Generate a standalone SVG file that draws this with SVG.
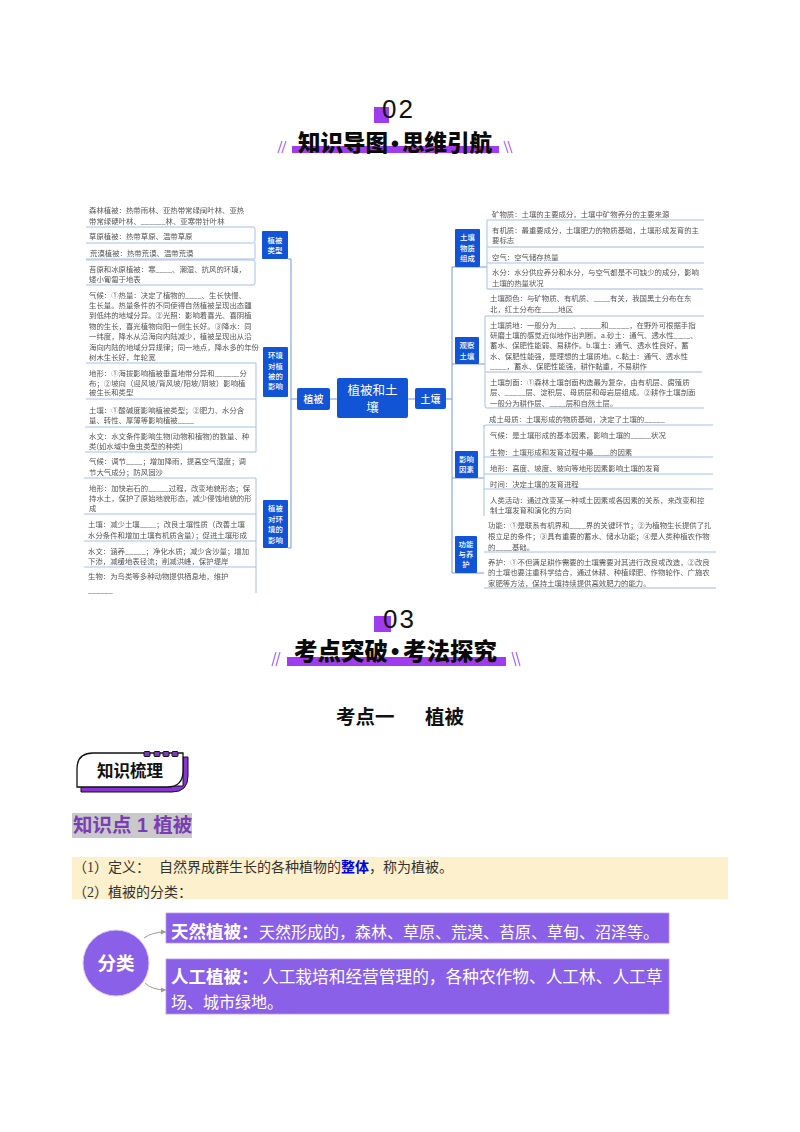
<svg xmlns="http://www.w3.org/2000/svg" width="800" height="1132" viewBox="0 0 800 1132">
<style>
text{font-family:"Noto Sans CJK SC","Liberation Sans",sans-serif}
.t{font-size:7.4px;fill:#555}
.n{fill:#1155d6}
.nt{font-size:7.4px;font-weight:500;fill:#fff;text-anchor:middle}
.c{fill:none;stroke:#7596d8;stroke-width:1}
.l{fill:none;stroke:#a9bfe6;stroke-width:1}
.l2{fill:none;stroke:#c3cfe6;stroke-width:1.4}
.h{font-size:22.500px;font-weight:900;fill:#0a0a0a}
.num{font-family:"Liberation Sans",sans-serif;font-size:26px;fill:#111;letter-spacing:2px}
.bar{fill:#a03cf0}
.sl{fill:none;stroke:#b26cf2;stroke-width:1.2}
.s{font-family:"Liberation Serif","Noto Sans CJK SC",serif;font-size:14px;fill:#333}
.w{fill:#fff;font-size:16px}
.wb{fill:#fff;font-size:17.5px;font-weight:700}
.p{fill:#8a60e8;stroke:#b79af0;stroke-width:.8}
.soft{filter:url(#b)}
</style>
<defs>
<marker id="a" markerWidth="6" markerHeight="6" refX="5" refY="3" orient="auto"><path d="M0,0.5L5,3L0,5.500Z" fill="#999"/></marker>
<filter id="b" x="-2%" y="-2%" width="104%" height="104%"><feGaussianBlur stdDeviation="0.35"/></filter>
</defs>
<g id="h02">
<rect x="374" y="107" width="15" height="16" class="bar"/>
<text x="382" y="118" class="num">02</text>
<rect x="292" y="146" width="207" height="7" class="bar"/>
<path class="sl" d="M282,141L278,153M286,141L282,153M504,141L508,153M508,141L512,153"/>
<text x="298" y="151" class="h">知识导图<tspan x="391" style="font-family:'Liberation Sans',sans-serif">•</tspan><tspan x="402">思维引航</tspan></text>
</g>
<g id="connectors">
<path class="c" d="M288,259H291V548H288M291,399H297M330,399H337M408,399H415M446,399H452M452,267V573M452,267H487M452,364H485M452,478H484M452,573H484"/>
<path d="M144,938Q152,932 166,932" fill="none" stroke="#999" stroke-width="1" marker-end="url(#a)"/>
<path d="M145,983Q152,990 166,990" fill="none" stroke="#999" stroke-width="1" marker-end="url(#a)"/>
</g>
<g id="root"><rect class="n" x="337" y="378" width="71" height="40" rx="2"/><text x="372.500" y="394.500" text-anchor="middle" font-size="12.500" fill="#fff">植被和土</text><text x="372.500" y="411.500" text-anchor="middle" font-size="12.500" fill="#fff">壤</text></g>
<g id="n-zhibei"><rect class="n" x="297" y="388" width="33" height="22" rx="2"/><text x="313.500" y="403" class="nt" style="font-size:10px">植被</text></g>
<g id="n-turang"><rect class="n" x="415" y="388" width="31" height="21" rx="2"/><text x="430.500" y="403" class="nt" style="font-size:10px">土壤</text></g>
<g id="n-type"><rect class="n" x="262" y="231" width="26" height="28" rx="1"/><text x="275" y="243" class="nt">植被</text><text x="275" y="253" class="nt">类型</text></g>
<g id="n-env"><rect class="n" x="263" y="347" width="25" height="50" rx="1"/><text x="275.500" y="358" class="nt">环境</text><text x="275.500" y="369" class="nt">对植</text><text x="275.500" y="379" class="nt">被的</text><text x="275.500" y="389" class="nt">影响</text></g>
<g id="n-effect"><rect class="n" x="263" y="500" width="25" height="48" rx="1"/><text x="275.500" y="511" class="nt">植被</text><text x="275.500" y="522" class="nt">对环</text><text x="275.500" y="532" class="nt">境的</text><text x="275.500" y="543" class="nt">影响</text></g>
<g id="n-comp"><rect class="n" x="455" y="229" width="25" height="38" rx="1"/><text x="467.500" y="240" class="nt">土壤</text><text x="467.500" y="251" class="nt">物质</text><text x="467.500" y="261" class="nt">组成</text></g>
<g id="n-obs"><rect class="n" x="455" y="337" width="24" height="27" rx="1"/><text x="467" y="348" class="nt">观察</text><text x="467" y="359" class="nt">土壤</text></g>
<g id="n-factor"><rect class="n" x="455" y="451" width="23" height="27" rx="1"/><text x="466.500" y="462" class="nt">影响</text><text x="466.500" y="472" class="nt">因素</text></g>
<g id="n-func"><rect class="n" x="455" y="536" width="22" height="37" rx="1"/><text x="466" y="547" class="nt">功能</text><text x="466" y="557" class="nt">与养</text><text x="466" y="567" class="nt">护</text></g>
<g id="leaf-left">
<path class="l" d="M86,227H253Q255,227 255,229V241Q255,243 253,243H86M255,243V259H86M86,260H253Q255,260 255,262V283Q255,285 253,285H86M86,363H256M86,399H256M85,427H256M85,452H256V363M84,478H256M84,514H256M84,541H256M84,567H256M256,478V593"/>
<g class="soft">
<text class="t" x="89" y="213">森林植被：热带雨林、亚热带常绿阔叶林、亚热</text>
<text class="t" x="89" y="224">带常绿硬叶林、______林、亚寒带针叶林</text>
<text class="t" x="89" y="239">草原植被：热带草原、温带草原</text>
<text class="t" x="90" y="256">荒漠植被：热带荒漠、温带荒漠</text>
<text class="t" x="89" y="272">苔原和冰原植被：寒____、潮湿、抗风的环境，</text>
<text class="t" x="89" y="282">矮小匍匐于地表</text>
<text class="t" x="89" y="298">气候：①热量：决定了植物的____、生长快慢、</text>
<text class="t" x="89" y="308">生长量。热量条件的不同使得自然植被呈现出态疆</text>
<text class="t" x="89" y="318">到低纬的地域分异。②光照：影响着喜光、喜阴植</text>
<text class="t" x="89" y="329">物的生长，喜光植物向阳一侧生长好。③降水：同</text>
<text class="t" x="89" y="339">一纬度，降水从沿海向内陆减少，植被呈现出从沿</text>
<text class="t" x="89" y="350">海向内陆的地域分异规律；同一地点，降水多的年份</text>
<text class="t" x="89" y="360">树木生长好，年轮宽</text>
<text class="t" x="89" y="376">地形：①海拔影响植被垂直地带分异和______分</text>
<text class="t" x="89" y="386">布；②坡向（迎风坡/背风坡/阳坡/阴坡）影响植</text>
<text class="t" x="89" y="395">被生长和类型</text>
<text class="t" x="89" y="413">土壤：①酸碱度影响植被类型；②肥力、水分含</text>
<text class="t" x="89" y="423">量、转性、厚薄等影响植被____</text>
<text class="t" x="89" y="439">水文：水文条件影响生物(动物和植物)的数量、种</text>
<text class="t" x="89" y="449">类(如水域中鱼虫类型的种类)</text>
<text class="t" x="89" y="464">气候：调节____；增加降雨，提高空气湿度；调</text>
<text class="t" x="89" y="475">节大气成分；防风固沙</text>
<text class="t" x="89" y="491">地形：加快岩石的_____过程，改变地貌形态；保</text>
<text class="t" x="89" y="501">持水土，保护了原始地貌形态，减少侵蚀地貌的形</text>
<text class="t" x="89" y="511">成</text>
<text class="t" x="88" y="527">土壤：减少土壤____；改良土壤性质（改善土壤</text>
<text class="t" x="88" y="538">水分条件和增加土壤有机质含量）；促进土壤形成</text>
<text class="t" x="88" y="554">水文：涵养_____；净化水质；减少含沙量；增加</text>
<text class="t" x="88" y="564">下渗，减缓地表径流；削减洪峰，保护堤岸</text>
<text class="t" x="88" y="579">生物：为鸟类等多种动物提供栖息地，维护</text>
<text class="t" x="88" y="593">______</text>
</g>
</g>
<g id="leaf-right">
<path class="l" d="M487,220H704M487,220V289M487,263H704M485,316H704M485,316V406Q485,408 487,408H704M484,427Q484,425 486,425H713M484,425V516M484,457H713M484,474H713M484,489H713M484,552H716"/>
<path class="l2" d="M487,247H704M487,289H703M485,372H702M484,588H716"/>
<g class="soft">
<text class="t" x="492" y="217">矿物质：土壤的主要成分，土壤中矿物养分的主要来源</text>
<text class="t" x="492" y="233">有机质：最重要成分，土壤肥力的物质基础，土壤形成发育的主</text>
<text class="t" x="492" y="243">要标志</text>
<text class="t" x="492" y="260">空气：空气储存热量</text>
<text class="t" x="492" y="275">水分：水分供应养分和水分，与空气都是不可缺少的成分，影响</text>
<text class="t" x="492" y="286">土壤的热量状况</text>
<text class="t" x="490" y="301">土壤颜色：与矿物质、有机质、____有关，我国黑土分布在东</text>
<text class="t" x="490" y="312">北，红土分布在____地区</text>
<text class="t" x="490" y="328">土壤质地：一般分为____、_____和_____，在野外可根据手指</text>
<text class="t" x="490" y="338">研磨土壤的感觉近似地作出判断。a.砂土：通气、透水性____、</text>
<text class="t" x="490" y="348">蓄水、保肥性能弱、易耕作。b.壤土：通气、透水性良好，蓄</text>
<text class="t" x="490" y="359">水、保肥性能强，是理想的土壤质地。c.黏土：通气、透水性</text>
<text class="t" x="490" y="369">____，蓄水、保肥性能强，耕作黏重，不易耕作</text>
<text class="t" x="490" y="385">土壤剖面：①森林土壤剖面构造最为复杂，由有机层、腐殖质</text>
<text class="t" x="490" y="395">层、_____层、淀积层、母质层和母岩层组成。②耕作土壤剖面</text>
<text class="t" x="490" y="406">一般分为耕作层、____层和自然土层。</text>
<text class="t" x="489" y="422">成土母质：土壤形成的物质基础，决定了土壤的_____</text>
<text class="t" x="490" y="438">气候：是土壤形成的基本因素，影响土壤的_____状况</text>
<text class="t" x="490" y="455">生物：土壤形成和发育过程中最____的因素</text>
<text class="t" x="490" y="471">地形：高度、坡度、坡向等地形因素影响土壤的发育</text>
<text class="t" x="490" y="487">时间：决定土壤的发育进程</text>
<text class="t" x="490" y="503">人类活动：通过改变某一种或土因素或各因素的关系，来改变和控</text>
<text class="t" x="490" y="513">制土壤发育和演化的方向</text>
<text class="t" x="488" y="528">功能：①是联系有机界和____界的关键环节；②为植物生长提供了扎</text>
<text class="t" x="488" y="539">根立足的条件；③具有重要的蓄水、储水功能；④是人类种植农作物</text>
<text class="t" x="488" y="550">的____基础。</text>
<text class="t" x="488" y="565">养护：①不但满足耕作需要的土壤需要对其进行改良或改造，②改良</text>
<text class="t" x="488" y="575">的土壤也要注重科学结合，通过休耕、种植绿肥、作物轮作、广施农</text>
<text class="t" x="488" y="586">家肥等方法，保持土壤持续提供高效肥力的能力。</text>
</g>
</g>
<g id="h03">
<rect x="374" y="616" width="17" height="16" class="bar"/>
<text x="383" y="628" class="num">03</text>
<rect x="287" y="657" width="219" height="9" class="bar"/>
<path class="sl" d="M276,652L272,666M280,652L276,666M512,652L516,666M516,652L520,666"/>
<text x="294" y="660" class="h" style="font-size:23.500px">考点突破<tspan x="391" style="font-family:'Liberation Sans',sans-serif">•</tspan><tspan x="403">考法探究</tspan></text>
</g>
<text x="336" y="724" font-size="19.500" font-weight="700" fill="#111">考点一<tspan x="425">植被</tspan></text>
<g id="badge">
<path d="M81,792H172Q188,792 188,776V757H183V786H81Z" fill="#8a34d8" stroke="#111" stroke-width="1"/>
<path d="M93,753H183V771Q183,787 167,787H77V769Q77,753 93,753Z" fill="#fff" stroke="#111" stroke-width="1.300"/>
<g fill="#7a3db5" stroke="#111" stroke-width="1"><rect x="144" y="751.500" width="6" height="5" rx="1"/><rect x="154" y="751.500" width="6" height="5" rx="1"/><rect x="163" y="751.500" width="6" height="5" rx="1"/><rect x="172" y="751.500" width="6" height="5" rx="1"/></g>
<text x="130" y="777" text-anchor="middle" font-size="16.500" font-weight="700" fill="#111">知识梳理</text>
</g>
<g id="kp1"><rect x="72" y="813" width="120" height="25" fill="#c9c9c9"/><text x="73" y="832" font-size="19.500" font-weight="700" fill="#7a3db5" style="font-family:'Liberation Sans','Noto Sans CJK SC',sans-serif">知识点 1 植被</text></g>
<g id="def">
<rect x="72" y="857" width="656" height="42" fill="#fdf0cc"/>
<text class="s" x="73" y="872">（1）定义：</text>
<text class="s" x="159" y="872">自然界成群生长的各种植物的<tspan fill="#0000e0" font-weight="700">整体</tspan>，称为植被。</text>
<text class="s" x="73" y="897">（2）植被的分类：</text>
</g>
<g id="fenlei"><circle cx="116" cy="963" r="33" fill="#8a60e8" stroke="#d8ccf6" stroke-width="1"/><text x="116" y="970" text-anchor="middle" font-size="18.500" font-weight="700" fill="#fff">分类</text></g>
<g id="natural"><rect class="p" x="166" y="913" width="503" height="30"/><text class="wb" x="171" y="938">天然植被：</text><text class="w" x="259" y="938">天然形成的，森林、草原、荒漠、苔原、草甸、沼泽等。</text></g>
<g id="artificial"><rect class="p" x="166" y="959" width="503" height="55"/><text class="wb" x="171" y="983">人工植被：</text><text class="w" x="262" y="983" style="font-size:16.700px">人工栽培和经营管理的，各种农作物、人工林、人工草</text><text class="w" x="171" y="1008">场、城市绿地。</text></g>
</svg>
